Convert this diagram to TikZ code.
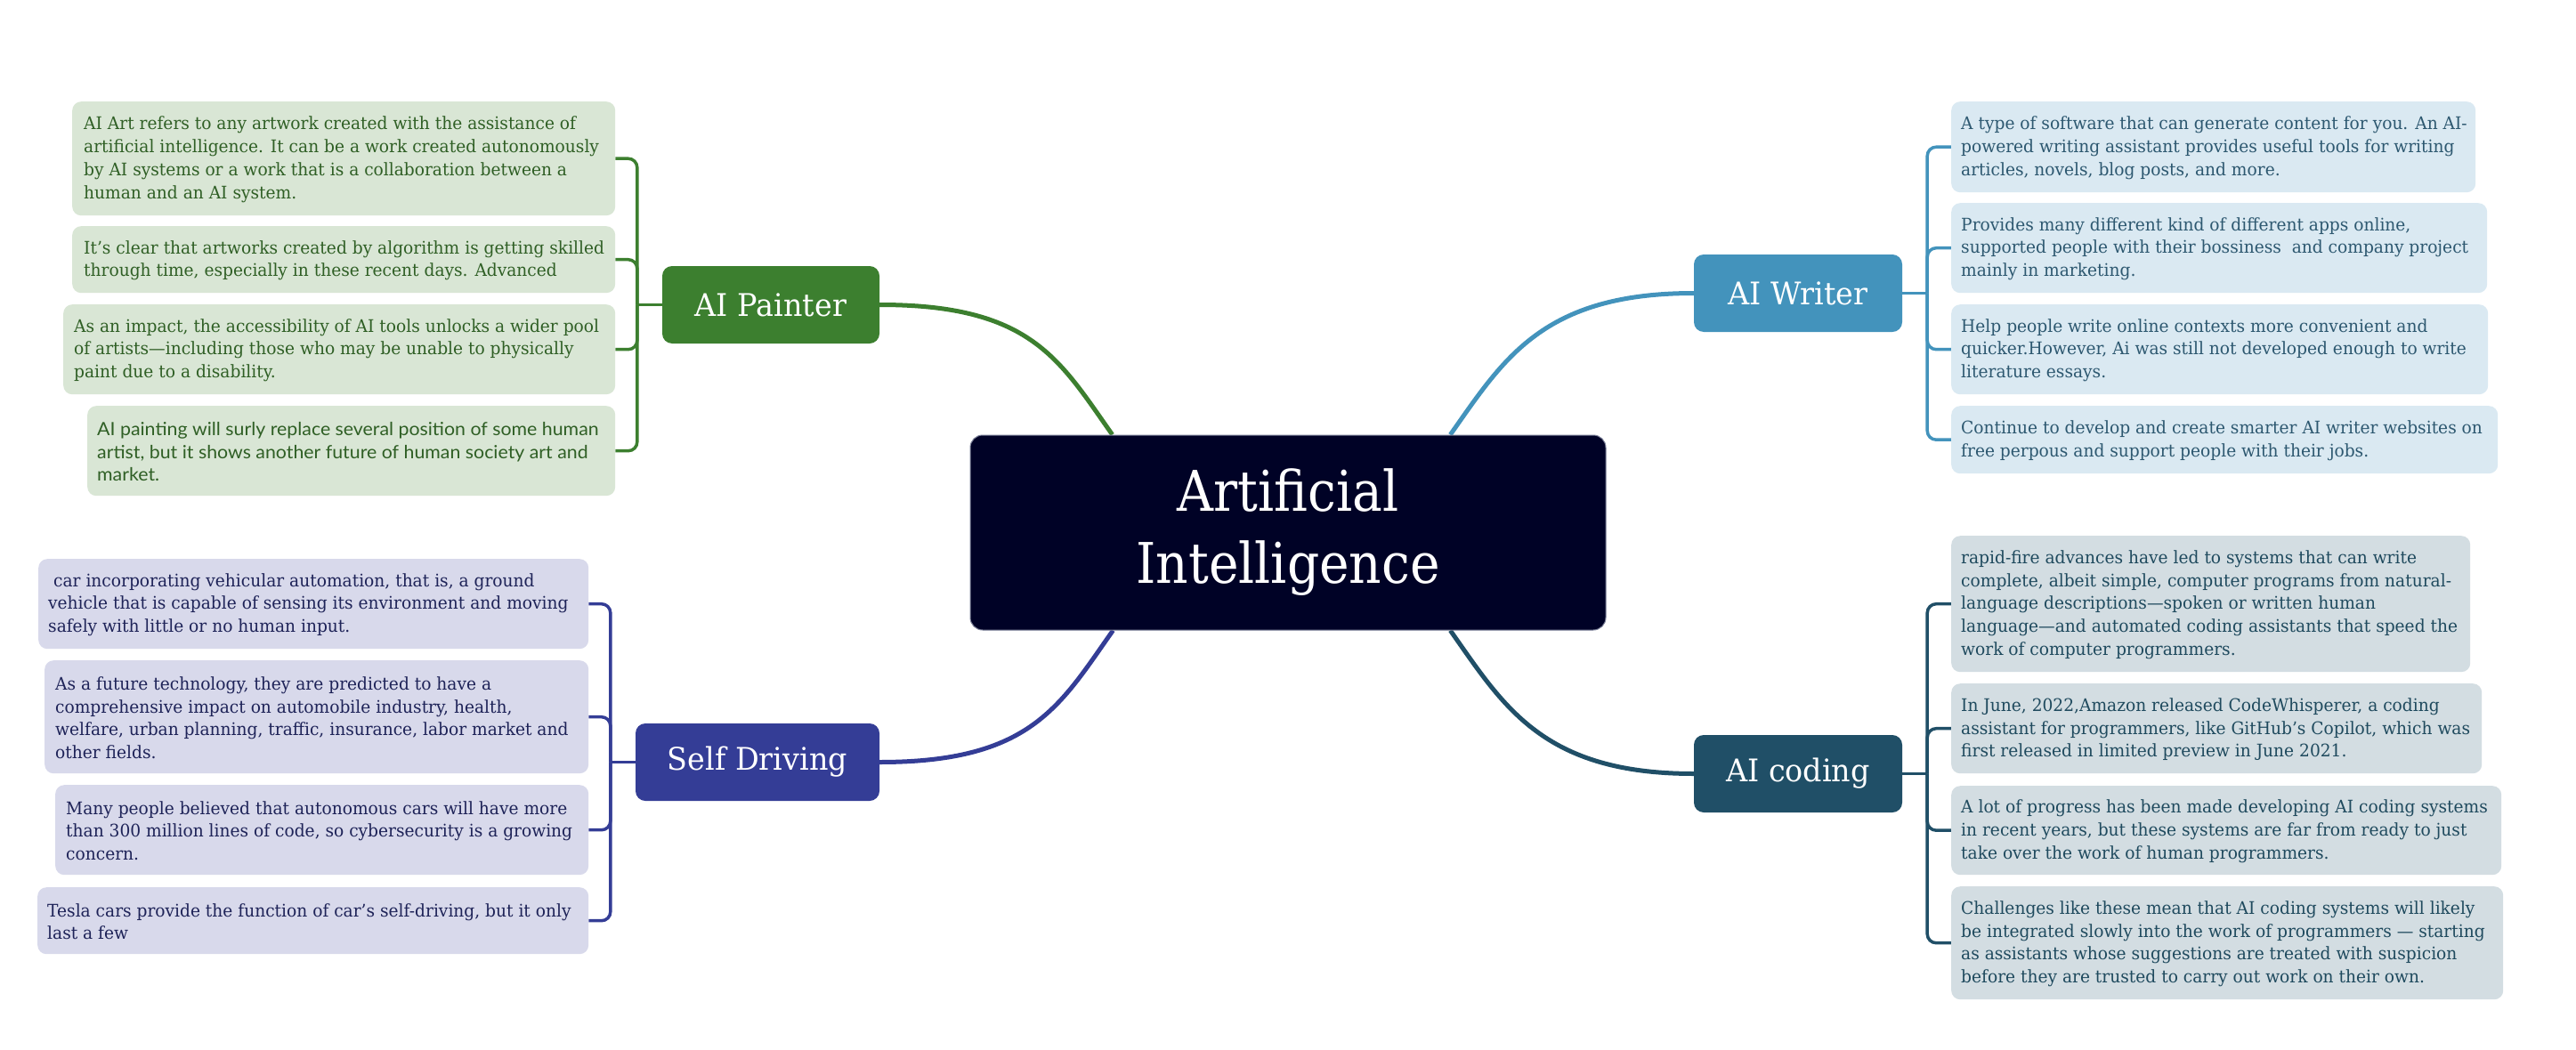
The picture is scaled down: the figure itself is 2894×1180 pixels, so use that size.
\documentclass[tikz,border=0pt]{standalone}
\usepackage{fontspec}
\setmainfont{DejaVu Serif}[FakeStretch=0.955]
\newfontfamily\titleserif{DejaVu Serif}[FakeStretch=0.9]
\newfontfamily\leafsans{Lato}[FakeStretch=1.04]
\usetikzlibrary{calc}
\pgfdeclarelayer{background}
\pgfsetlayers{background,main}

\definecolor{centerfill}{HTML}{000226}
\definecolor{centeredge}{HTML}{7C8199}
\definecolor{paintgreen}{HTML}{3C7F2F}
\definecolor{paintlight}{HTML}{D9E6D5}
\definecolor{painttext}{HTML}{2F5F25}
\definecolor{drivblue}{HTML}{343D96}
\definecolor{drivlight}{HTML}{D8D9EB}
\definecolor{drivtext}{HTML}{1E2358}
\definecolor{writeblue}{HTML}{4393BC}
\definecolor{writelight}{HTML}{DAE9F2}
\definecolor{writetext}{HTML}{2D5870}
\definecolor{codeteal}{HTML}{204F67}
\definecolor{codelight}{HTML}{D3DDE2}
\definecolor{codetext}{HTML}{1F4A5E}

\tikzset{
  topic/.style={rounded corners=11pt, inner sep=0pt, text=white,
    minimum height=87pt, font=\fontsize{35}{42}\selectfont},
  leafbox/.style={rounded corners=10pt, anchor=north west, inner sep=0pt},
  leaftext/.style={anchor=west, align=left, inner sep=0pt,
    font=\fontsize{19.5}{25.8}\selectfont},
  twig/.style={line width=3.5pt, rounded corners=10pt},
  limb/.style={line width=5pt},
}

\begin{document}
\begin{tikzpicture}[x=1pt,y=-1pt]
\useasboundingbox (0,0) rectangle (2894,1180);

% central topic
\node[fill=centerfill, draw=centeredge, line width=1pt, rounded corners=14pt,
  minimum width=714pt, minimum height=219pt, align=center, text=white,
  font=\titleserif\fontsize{63}{81}\selectfont] (ai) at (1447,598.5) {Artificial\\Intelligence};

% main branches
\node[topic, fill=paintgreen, minimum width=244pt] (painter) at (866,342.5) {AI Painter};
\node[topic, fill=drivblue, minimum width=274pt] (drive) at (851,856.5) {Self Driving};
\node[topic, fill=writeblue, minimum width=234pt] (writer) at (2020,329.5) {AI Writer};
\node[topic, fill=codeteal, minimum width=234pt] (coding) at (2020,869.5) {AI coding};

% AI Painter leaves
\node[leafbox, fill=paintlight, minimum width=610pt, minimum height=128pt] (p1) at (81,114) {};
\node[leafbox, fill=paintlight, minimum width=610pt, minimum height=75pt] (p2) at (81,254) {};
\node[leafbox, fill=paintlight, minimum width=620pt, minimum height=101pt] (p3) at (71,342) {};
\node[leafbox, fill=paintlight, minimum width=593pt, minimum height=101pt] (p4) at (98,456) {};
\begin{scope}[every node/.style={leaftext, text=painttext}]
\node (p1t) at ($(p1.west)+(13,1)$) {AI Art refers to any artwork created with the assistance of\\artificial intelligence. It can be a work created autonomously\\by AI systems or a work that is a collaboration between a\\human and an AI system.};
\node (p2t) at ($(p2.west)+(13,1)$) {It's clear that artworks created by algorithm is getting skilled\\through time, especially in these recent days. Advanced};
\node (p3t) at ($(p3.west)+(12,1)$) {As an impact, the accessibility of AI tools unlocks a wider pool\\of artists—including those who may be unable to physically\\paint due to a disability.};
\node[font=\leafsans\fontsize{20.5}{25.8}\selectfont] (p4t) at ($(p4.west)+(11,1)$) {AI painting will surly replace several position of some human\\artist, but it shows another future of human society art and\\market.};
\end{scope}

% Self Driving leaves
\node[leafbox, fill=drivlight, minimum width=618pt, minimum height=101pt] (s1) at (43,628) {};
\node[leafbox, fill=drivlight, minimum width=611pt, minimum height=127pt] (s2) at (50,742) {};
\node[leafbox, fill=drivlight, minimum width=599pt, minimum height=101pt] (s3) at (62,882) {};
\node[leafbox, fill=drivlight, minimum width=619pt, minimum height=75pt] (s4) at (42,997) {};
\begin{scope}[every node/.style={leaftext, text=drivtext}]
\node (s1t) at ($(s1.west)+(11,1)$) {\hspace*{6pt}car incorporating vehicular automation, that is, a ground\\vehicle that is capable of sensing its environment and moving\\safely with little or no human input.};
\node (s2t) at ($(s2.west)+(12,1)$) {As a future technology, they are predicted to have a\\comprehensive impact on automobile industry, health,\\welfare, urban planning, traffic, insurance, labor market and\\other fields.};
\node (s3t) at ($(s3.west)+(12,1)$) {Many people believed that autonomous cars will have more\\than 300 million lines of code, so cybersecurity is a growing\\concern.};
\node (s4t) at ($(s4.west)+(11,1)$) {Tesla cars provide the function of car's self-driving, but it only\\last a few};
\end{scope}

% AI Writer leaves
\node[leafbox, fill=writelight, minimum width=589pt, minimum height=102pt] (w1) at (2192,114) {};
\node[leafbox, fill=writelight, minimum width=602pt, minimum height=101pt] (w2) at (2192,228) {};
\node[leafbox, fill=writelight, minimum width=603pt, minimum height=101pt] (w3) at (2192,342) {};
\node[leafbox, fill=writelight, minimum width=614pt, minimum height=76pt] (w4) at (2192,456) {};
\begin{scope}[every node/.style={leaftext, text=writetext}]
\node (w1t) at ($(w1.west)+(11,1)$) {A type of software that can generate content for you. An AI-\\powered writing assistant provides useful tools for writing\\articles, novels, blog posts, and more.};
\node (w2t) at ($(w2.west)+(11,1)$) {Provides many different kind of different apps online,\\supported people with their bossiness\ \ and company project\\mainly in marketing.};
\node (w3t) at ($(w3.west)+(11,1)$) {Help people write online contexts more convenient and\\quicker.However, Ai was still not developed enough to write\\literature essays.};
\node (w4t) at ($(w4.west)+(11,1)$) {Continue to develop and create smarter AI writer websites on\\free perpous and support people with their jobs.};
\end{scope}

% AI coding leaves
\node[leafbox, fill=codelight, minimum width=583pt, minimum height=153pt] (c1) at (2192,602) {};
\node[leafbox, fill=codelight, minimum width=596pt, minimum height=101pt] (c2) at (2192,768) {};
\node[leafbox, fill=codelight, minimum width=618pt, minimum height=100pt] (c3) at (2192,883) {};
\node[leafbox, fill=codelight, minimum width=620pt, minimum height=127pt] (c4) at (2192,996) {};
\begin{scope}[every node/.style={leaftext, text=codetext}]
\node (c1t) at ($(c1.west)+(11,1)$) {rapid-fire advances have led to systems that can write\\complete, albeit simple, computer programs from natural-\\language descriptions—spoken or written human\\language—and automated coding assistants that speed the\\work of computer programmers.};
\node (c2t) at ($(c2.west)+(11,1)$) {In June, 2022,Amazon released CodeWhisperer, a coding\\assistant for programmers, like GitHub’s Copilot, which was\\first released in limited preview in June 2021.};
\node (c3t) at ($(c3.west)+(11,1)$) {A lot of progress has been made developing AI coding systems\\in recent years, but these systems are far from ready to just\\take over the work of human programmers.};
\node (c4t) at ($(c4.west)+(11,1)$) {Challenges like these mean that AI coding systems will likely\\be integrated slowly into the work of programmers — starting\\as assistants whose suggestions are treated with suspicion\\before they are trusted to carry out work on their own.};
\end{scope}

% junctions of the brackets
\coordinate (pj) at ($(painter.west)+(-28,0)$);
\coordinate (sj) at ($(drive.west)+(-28,0)$);
\coordinate (wj) at ($(writer.east)+(28,0)$);
\coordinate (cj) at ($(coding.east)+(28,0)$);

\begin{pgfonlayer}{background}
  \fill[white] (0,0) rectangle (2894,1180);
  % curved limbs from the central topic
  \draw[limb, paintgreen] (painter.east) .. controls +(170,0) and +(-60,-85) .. ($(ai.north west)!0.224!(ai.north east)$);
  \draw[limb, drivblue] (drive.east) .. controls +(170,0) and +(-60,85) .. ($(ai.south west)!0.225!(ai.south east)$);
  \draw[limb, writeblue] (writer.west) .. controls +(-170,0) and +(60,-85) .. ($(ai.north west)!0.755!(ai.north east)$);
  \draw[limb, codeteal] (coding.west) .. controls +(-170,0) and +(60,85) .. ($(ai.south west)!0.755!(ai.south east)$);
  % brackets to the leaves
  \draw[twig, paintgreen] (painter.west) -- (pj);
  \foreach \n in {p1,p2,p3,p4} \draw[twig, paintgreen] (pj) |- (\n.east);
  \draw[twig, drivblue] (drive.west) -- (sj);
  \foreach \n in {s1,s2,s3,s4} \draw[twig, drivblue] (sj) |- (\n.east);
  \draw[twig, writeblue] (writer.east) -- (wj);
  \foreach \n in {w1,w2,w3,w4} \draw[twig, writeblue] (wj) |- (\n.west);
  \draw[twig, codeteal] (coding.east) -- (cj);
  \foreach \n in {c1,c2,c3,c4} \draw[twig, codeteal] (cj) |- (\n.west);
\end{pgfonlayer}
\end{tikzpicture}
\end{document}
